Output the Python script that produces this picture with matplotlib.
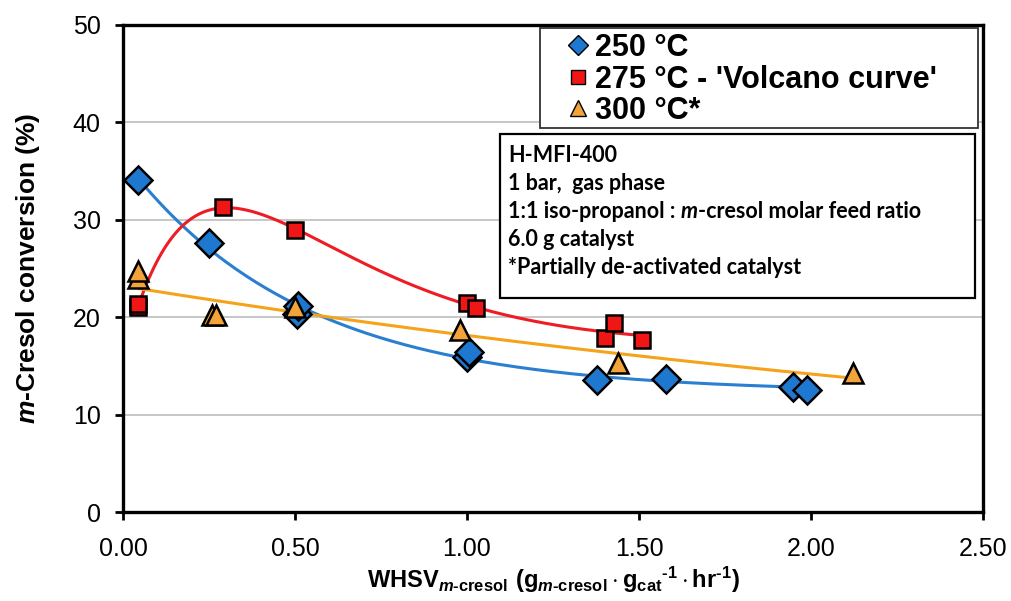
import matplotlib.pyplot as plt
import numpy as np
from matplotlib.patches import Rectangle
from matplotlib.lines import Line2D

# conversion vs WHSV at three temperatures
whsv_250 = np.array([0.045, 0.25, 0.505, 0.51, 1.00, 1.005, 1.378, 1.578, 1.948, 1.988])
conv_250 = np.array([34.1, 27.6, 20.3, 21.2, 15.9, 16.4, 13.6, 13.7, 12.8, 12.5])

whsv_275 = np.array([0.045, 0.045, 0.29, 0.50, 1.00, 1.025, 1.40, 1.427, 1.509])
conv_275 = np.array([21.0, 21.4, 31.3, 29.0, 21.5, 20.9, 17.9, 19.4, 17.7])

whsv_300 = np.array([0.045, 0.045, 0.258, 0.27, 0.50, 0.98, 1.439, 2.122])
conv_300 = np.array([24.0, 24.7, 20.2, 20.2, 21.0, 18.7, 15.3, 14.3])

labels = ['250 °C', "275 °C - 'Volcano curve'", '300 °C*']
info_lines = ['H-MFI-400', '1 bar,  gas phase', None, '6.0 g catalyst',
              '*Partially de-activated catalyst']

blue = '#1f78cf'
red = '#f01616'
orange = '#f2a33a'
line_blue = '#2a7fd0'
line_red = '#ee1c24'
line_orange = '#f5a31a'

plt.rcParams['mathtext.fontset'] = 'custom'
plt.rcParams['mathtext.rm'] = 'Liberation Sans:bold'
plt.rcParams['mathtext.it'] = 'Liberation Sans:bold:italic'
plt.rcParams['mathtext.bf'] = 'Liberation Sans:bold'


def grid_fit(x, y, basis, ks):
    # linear least squares for each k, keep the best one
    best = None
    for k in ks:
        A = basis(x, k)
        coef = np.linalg.lstsq(A, y, rcond=None)[0]
        sse = np.sum((A @ coef - y) ** 2)
        if best is None or sse < best[0]:
            best = (sse, k, coef)
    _, k, coef = best
    return lambda t: basis(t, k) @ coef


# y = a + b*exp(-k x)
decay = lambda x, k: np.column_stack([np.ones_like(x), np.exp(-k * x)])
# y = a + b*x + c*x*exp(-k x)  (rise then fall)
volcano = lambda x, k: np.column_stack([np.ones_like(x), x, x * np.exp(-k * x)])

fig = plt.figure(figsize=(10.12, 6.01), dpi=100)
ax = fig.add_axes([123/1012, 1 - 512/601, 860/1012, 487/601])

# trend curves
f250 = grid_fit(whsv_250, conv_250, decay, np.linspace(0.3, 6, 571))
xs = np.linspace(whsv_250.min(), whsv_250.max(), 200)
ax.plot(xs, f250(xs), color=line_blue, lw=2.2, zorder=2)

f275 = grid_fit(whsv_275, conv_275, volcano, np.linspace(1, 10, 901))
xs = np.linspace(whsv_275.min(), whsv_275.max(), 200)
ax.plot(xs, f275(xs), color=line_red, lw=2.2, zorder=2)

p300 = np.polyfit(whsv_300, np.log(conv_300), 1)
xs = np.linspace(whsv_300.min(), whsv_300.max(), 200)
ax.plot(xs, np.exp(np.polyval(p300, xs)), color=line_orange, lw=2.2, zorder=2)

ax.plot(whsv_250, conv_250, 'D', ms=14, mfc=blue, mec='black', mew=1.8, ls='none', zorder=3)
ax.plot(whsv_275, conv_275, 's', ms=12, mfc=red, mec='black', mew=1.8, ls='none', zorder=4)
ax.plot(whsv_300, conv_300, '^', ms=14, mfc=orange, mec='black', mew=1.8, ls='none', zorder=5)

ax.set_xlim(0, 2.5)
ax.set_ylim(0, 50)
ax.set_xticks(np.arange(0, 2.51, 0.5))
ax.set_yticks(np.arange(0, 51, 10))
ax.set_xticklabels(['%.2f' % v for v in np.arange(0, 2.51, 0.5)])
ax.yaxis.grid(True, color='#b8b8b8', lw=1.1)
ax.set_axisbelow(True)
for s in ax.spines.values():
    s.set_linewidth(2.4)
ax.tick_params(direction='out', length=6, width=2, labelsize=18)
ax.tick_params(axis='x', pad=12)
ax.tick_params(axis='y', pad=10)
for t in ax.get_xticklabels() + ax.get_yticklabels():
    t.set_family('Liberation Sans')

ax.set_ylabel(r'$\mathit{m}$-Cresol conversion (%)', fontsize=19, family='Liberation Sans',
              fontweight='bold', labelpad=22)
ax.set_xlabel(r'$\mathrm{WHSV}_{\mathit{m}\text{-cresol}}$ '
              r'$(\mathrm{g}_{\mathit{m}\text{-cresol}}\cdot\mathrm{g}_{\mathrm{cat}}{}^{\text{-1}}'
              r'\cdot\mathrm{hr}^{\text{-1}})$', fontsize=17, labelpad=3)

# legend, framed by its own rectangle
ax.add_patch(Rectangle(((540-123)/860, (512-128)/487), 438/860, 100/487, transform=ax.transAxes,
                       fc='white', ec='#333333', lw=1.3, zorder=6))
handles = [Line2D([], [], marker='D', ms=10, mfc=blue, mec='black', mew=1, ls='none'),
           Line2D([], [], marker='s', ms=10, mfc=red, mec='black', mew=1, ls='none'),
           Line2D([], [], marker='^', ms=11, mfc=orange, mec='black', mew=1, ls='none')]
leg = ax.legend(handles, labels, loc='upper left', bbox_to_anchor=((563-123)/860, (512-30)/487),
                prop={'family': 'Liberation Sans', 'weight': 'bold', 'size': 22},
                frameon=False, handlelength=0.8, handletextpad=0.15, labelspacing=0.05,
                borderpad=0.1, borderaxespad=0)
leg.set_zorder(7)

# conditions box
ax.add_patch(Rectangle(((500-123)/860, (512-298)/487), 475/860, 164/487,
                       transform=ax.transAxes, fill=True, fc='white', ec='black', lw=1.6, zorder=6))
tfont = dict(family='Lato', weight='bold', size=15.5, zorder=7)
ypos = [156, 183, 211, 240, 268]
for line, yp in zip(info_lines, ypos):
    yy = (512 - yp) / 487
    if line is None:
        t1 = ax.text((508-123)/860, yy, '1:1 iso-propanol : ', transform=ax.transAxes, va='center', **tfont)
        t2 = ax.annotate('m', xy=(1, 0), xycoords=t1, va='bottom', style='italic', **tfont)
        ax.annotate('-cresol molar feed ratio', xy=(1, 0), xycoords=t2, va='bottom', **tfont)
    else:
        ax.text((508-123)/860, yy, line, transform=ax.transAxes, va='center', **tfont)

fig.savefig('out.png', dpi=100)
